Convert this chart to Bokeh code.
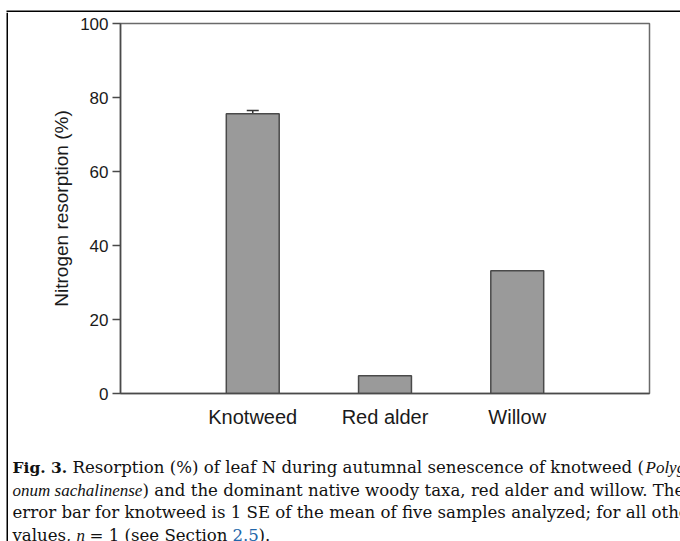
from bokeh.plotting import figure
from bokeh.layouts import column, row
from bokeh.models import (Range1d, FixedTicker, Whisker, ColumnDataSource, TeeHead)
from bokeh.core.properties import value
from bokeh.embed import file_html
from bokeh.resources import INLINE

# ---- data ----
taxa = ["Knotweed", "Red alder", "Willow"]
resorption = [75.6, 4.8, 33.2]          # Nitrogen resorption (%)
se = [0.9, None, None]                  # 1 SE (knotweed only, n = 5)
y_ticks = [0, 20, 40, 60, 80, 100]
y_title = "Nitrogen resorption (%)"

# caption segments: (text, style, colour)
caption_lines = [
    [("Fig. 3.", "bold", "#111111"),
     ("Resorption (%) of leaf N during autumnal senescence of knotweed (", "normal", "#111111"),
     ("Polyg-", "italic", "#111111")],
    [("onum sachalinense", "italic", "#111111"),
     (") and the dominant native woody taxa, red alder and willow. The", "normal", "#111111")],
    [("error bar for knotweed is 1 SE of the mean of five samples analyzed; for all other", "normal", "#111111")],
    [("values,", "normal", "#111111"),
     ("n", "italic", "#111111"),
     ("= 1 (see Section", "normal", "#111111"),
     ("2.5", "normal", "#2266aa"),
     (").", "normal", "#111111")],
]
# page x where each segment starts, and page baseline of each line
caption_x = [[12, 72, 645], [12, 142], [12], [12, 76, 89, 232, 258]]
caption_base = [467, 489.5, 512, 534.5]

# ---- page layout (page = 680 x 541, no body margin) ----
PAGE_W, PAGE_H = 680, 541
LEFT_W = 8          # strip holding the outer left rule
TOP_H = 12          # strip holding the outer top rule
CHART_H = 428       # chart block: page y 12 .. 440
CAP_H = PAGE_H - TOP_H - CHART_H
INNER_W = PAGE_W - LEFT_W

def blank(w, h, xr, yr):
    f = figure(width=w, height=h, output_backend="svg", toolbar_location=None,
               x_range=xr, y_range=yr, x_axis_location=None, y_axis_location=None,
               min_border=0, min_border_left=0, min_border_right=0,
               min_border_top=0, min_border_bottom=0)
    f.grid.visible = False
    f.outline_line_color = None
    f.background_fill_color = "white"
    f.border_fill_color = "white"
    f.frame_align = False
    return f

# top strip with the outer top rule
top = blank(PAGE_W, TOP_H, Range1d(0, PAGE_W), Range1d(TOP_H, 0))
top.quad(left=[6], right=[PAGE_W], top=[10], bottom=[12], fill_color="black", line_color=None)

# left strip with the outer left rule
left = blank(LEFT_W, PAGE_H - TOP_H, Range1d(0, LEFT_W), Range1d(PAGE_H - TOP_H, 0))
left.quad(left=[6], right=[8], top=[0], bottom=[PAGE_H - TOP_H], fill_color="black", line_color=None)

# ---- chart ----
ML, MR, MT, MB = 112, 31, 11, 47
xs = list(range(1, len(taxa) + 1))

p = figure(width=INNER_W, height=CHART_H, output_backend="svg", toolbar_location=None,
           x_range=Range1d(0, len(taxa) + 1), y_range=Range1d(0, 100),
           min_border_left=ML, min_border_right=MR,
           min_border_top=MT, min_border_bottom=MB)
p.frame_align = False

src = ColumnDataSource(dict(x=xs, top=resorption, name=taxa))
p.vbar(x="x", top="top", bottom=0, width=0.4, source=src,
       fill_color="#9a9a9a", line_color="#4a4a4a", line_width=1.5)

ex = [xs[i] for i in range(len(taxa)) if se[i] is not None]
eu = [resorption[i] + se[i] for i in range(len(taxa)) if se[i] is not None]
el = [resorption[i] - se[i] for i in range(len(taxa)) if se[i] is not None]
esrc = ColumnDataSource(dict(x=ex, upper=eu, lower=el))
p.add_layout(Whisker(base="x", upper="upper", lower="lower", source=esrc,
                     upper_head=TeeHead(size=12, line_color="#333333", line_width=1.5),
                     lower_head=None, line_color="#333333", line_width=1.5,
                     level="underlay"))

p.grid.visible = False
p.outline_line_color = "#6a6a6a"
p.outline_line_width = 1.5
p.background_fill_color = "white"
p.border_fill_color = "white"

# x axis
p.xaxis.ticker = FixedTicker(ticks=xs)
p.xaxis.major_label_overrides = {x: t for x, t in zip(xs, taxa)}
p.xaxis.major_tick_out = 0
p.xaxis.major_tick_in = 0
p.xaxis.minor_tick_out = 0
p.xaxis.minor_tick_in = 0
p.xaxis.major_label_standoff = 12
p.xaxis.major_label_text_font = "Liberation Sans"
p.xaxis.major_label_text_font_size = "20px"
p.xaxis.major_label_text_color = "#1a1a1a"
p.xaxis.axis_line_color = "#4a4a4a"
p.xaxis.axis_line_width = 1.5

# y axis
p.yaxis.ticker = FixedTicker(ticks=y_ticks)
p.yaxis.major_tick_out = 8
p.yaxis.major_tick_in = 0
p.yaxis.minor_tick_out = 0
p.yaxis.minor_tick_in = 0
p.yaxis.major_tick_line_color = "#4a4a4a"
p.yaxis.major_tick_line_width = 1.5
p.yaxis.major_label_standoff = 4
p.yaxis.major_label_text_font = "Liberation Sans"
p.yaxis.major_label_text_font_size = "17px"
p.yaxis.major_label_text_color = "#1a1a1a"
p.yaxis.axis_line_color = "#4a4a4a"
p.yaxis.axis_line_width = 1.5
p.yaxis.axis_label = y_title
p.yaxis.axis_label_text_font = "Liberation Sans"
p.yaxis.axis_label_text_font_size = "19px"
p.yaxis.axis_label_text_font_style = "normal"
p.yaxis.axis_label_text_color = "#1a1a1a"
p.yaxis.axis_label_standoff = 5

# ---- caption ----
cap = blank(INNER_W, CAP_H, Range1d(0, INNER_W), Range1d(CAP_H, 0))
rows = {"normal": [], "bold": [], "italic": []}
for segs, xs_line, base in zip(caption_lines, caption_x, caption_base):
    for (txt, style, col), px in zip(segs, xs_line):
        rows[style].append((px - LEFT_W, base - TOP_H - CHART_H, txt, col))

fonts = {"normal": ("DejaVu Serif", "16.6px"),
         "bold": ("DejaVu Serif", "15.5px"),
         "italic": ("Liberation Serif", "17px")}
for style, items in rows.items():
    if not items:
        continue
    s = ColumnDataSource(dict(x=[i[0] for i in items], y=[i[1] for i in items],
                              text=[i[2] for i in items], color=[i[3] for i in items]))
    font, size = fonts[style]
    cap.text(x="x", y="y", text="text", source=s,
             text_font=value(font), text_font_size=value(size),
             text_font_style=style, text_color="color",
             text_baseline="alphabetic", text_align="left")

layout = column(top, row(left, column(p, cap, spacing=0), spacing=0), spacing=0)

open("out.html", "w").write(file_html(layout, INLINE))
